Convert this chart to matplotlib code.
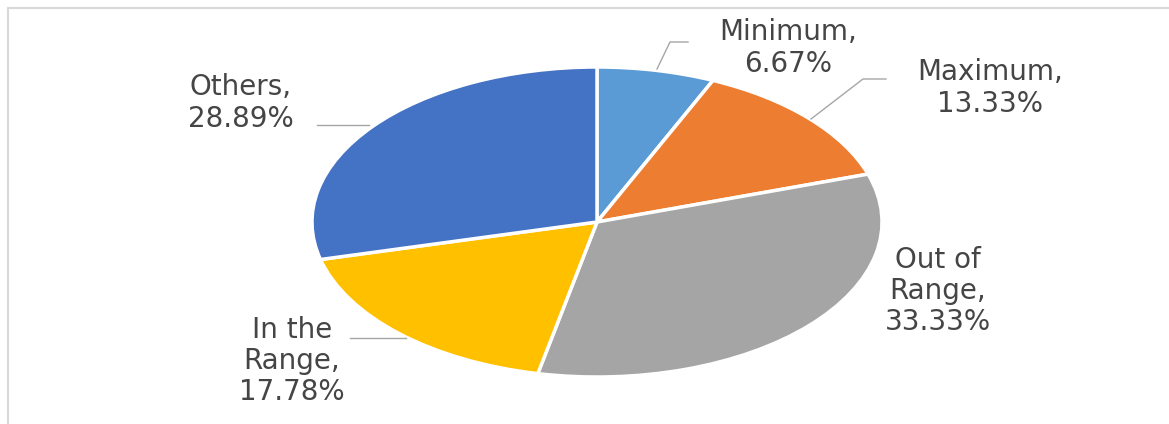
import numpy as np
import matplotlib
matplotlib.use("Agg")
import matplotlib.pyplot as plt
from matplotlib.lines import Line2D

# data
labels = ["Minimum", "Maximum", "Out of\nRange", "In the\nRange", "Others"]
shares = [6.67, 13.33, 33.33, 17.78, 28.89]
colors = ["#5B9BD5", "#ED7D31", "#A5A5A5", "#FFC000", "#4472C4"]

W, H = 1169, 424
cx, cy = 597, 222      # pie centre in pixels (from top left)
rx, ry = 285, 155      # the pie is stretched into an ellipse


def px(x, y):
    # pixel position -> data coords of the axes
    return (x - cx) / rx, (cy - y) / ry


fig = plt.figure(figsize=(W / 100, H / 100), dpi=100)
ax = fig.add_axes([0, 0, 1, 1])
ax.pie(shares, colors=colors, startangle=90, counterclock=False,
       radius=1, wedgeprops=dict(edgecolor="white", linewidth=2.5))
ax.set_aspect("auto")
ax.set_xlim(-cx / rx, (W - cx) / rx)
ax.set_ylim(-(H - cy) / ry, cy / ry)
ax.axis("off")

# light frame at top and left
fig.add_artist(Line2D([8 / W, 1], [1 - 8 / H, 1 - 8 / H], color="#d9d9d9", lw=1.5))
fig.add_artist(Line2D([8 / W, 8 / W], [0, 1 - 8 / H], color="#d9d9d9", lw=1.5))

# data labels (centre in pixels) and leader lines
label_pos = [(788, 48), (990, 88), (938, 291), (292, 361), (241, 103)]
leaders = [
    [(688, 42), (670, 42), (657, 69)],
    [(886, 79), (863, 79), (811, 119)],
    None,
    [(350, 338), (406, 338)],
    [(317, 125), (369, 125)],
]

for lab, val, pos, ld in zip(labels, shares, label_pos, leaders):
    tx, ty = px(*pos)
    ax.text(tx, ty, f"{lab},\n{val:.2f}%", ha="center", va="center",
            multialignment="center", fontsize=20, color="#454545",
            linespacing=1.15)
    if ld:
        xs, ys = zip(*[px(a, b) for a, b in ld])
        ax.plot(xs, ys, color="#a6a6a6", lw=1)

fig.savefig("out.png", dpi=100, facecolor="white")
